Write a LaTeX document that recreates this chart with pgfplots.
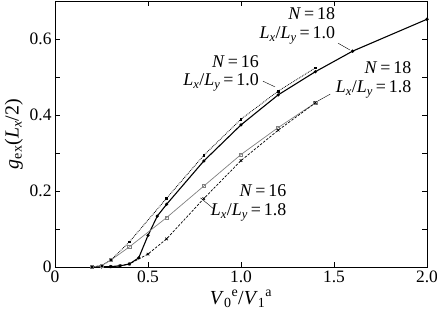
\documentclass[border=0pt]{standalone}
\usepackage{fontspec}
\setmainfont{Liberation Serif}
\usepackage{pgfplots}
\pgfplotsset{compat=1.18}
\begin{document}
\begin{tikzpicture}
\begin{axis}[
  scale only axis, width=372bp, height=266bp,
  xmin=0, xmax=2.0, ymin=0, ymax=0.7,
  xtick={0,0.5,1.0,1.5,2.0},
  xticklabels={0,0.5,1.0,1.5,2.0},
  ytick={0,0.2,0.4,0.6},
  yticklabels={0,0.2,0.4,0.6},
  minor ytick={0.1,0.3,0.5},
  tick align=inside,
  major tick length=5pt, minor tick length=5pt,
  tick style={black, line width=0.6pt},
  axis line style={line width=0.8pt},
  ticklabel style={font=\fontsize{17.5}{17.5}\selectfont},
  /pgf/number format/assume math mode=true,
  xticklabel style={yshift=0pt},
  yticklabel style={xshift=0pt},
  xlabel={\fontsize{20}{20}\selectfont\textit{V}\textsubscript{0}\textsuperscript{e}/\textit{V}\textsubscript{1}\textsuperscript{a}},
  ylabel={\fontsize{20}{20}\selectfont\textit{g}\textsubscript{ex}(\textit{L}\textsubscript{\textit{x}}/2)},
  xlabel style={yshift=-1pt},
  ylabel style={yshift=0pt},
  clip=false,
]
\coordinate (ll) at (rel axis cs:0,0);
\coordinate (ur) at (rel axis cs:1,1);
% N=18, Lx/Ly=1.0
\addplot[black, line width=1.1pt, mark=*, mark size=1.0pt] coordinates {
(0.2,0.0) (0.25,0.0005) (0.3,0.001) (0.35,0.003) (0.4,0.008) (0.45,0.024) (0.5,0.083) (0.55,0.134) (0.6,0.165) (0.8,0.279) (1.0,0.374) (1.2,0.453) (1.4,0.514) (1.6,0.568) (2.0,0.652)};
% N=16, Lx/Ly=1.0
\addplot[black, densely dotted, line width=0.8pt, mark=square*, mark size=0.9pt, mark options={solid}] coordinates {
(0.2,0.0) (0.25,0.004) (0.3,0.018) (0.4,0.066) (0.6,0.181) (0.8,0.294) (1.0,0.389) (1.2,0.463) (1.4,0.524)};
% N=18, Lx/Ly=1.8
\addplot[gray, line width=0.7pt, mark=square, mark size=1.6pt] coordinates {
(0.2,0.0) (0.25,0.004) (0.3,0.018) (0.4,0.053) (0.6,0.13) (0.8,0.213) (1.0,0.296) (1.2,0.367) (1.4,0.432)};
% N=16, Lx/Ly=1.8
\addplot[black, dashed, dash pattern=on 2.5pt off 1.5pt, line width=0.7pt, mark=x, mark size=1.8pt, mark options={solid}] coordinates {
(0.2,0.0) (0.3,0.001) (0.35,0.003) (0.4,0.008) (0.5,0.034) (0.6,0.074) (0.8,0.18) (1.0,0.28) (1.2,0.36) (1.4,0.432)};
% annotations
\node[font=\fontsize{18}{19}\selectfont, align=right, anchor=east] at (axis cs:1.525,0.634) {\textit{N}\,=\,18\hspace{1bp}\\\textit{L}\textsubscript{\textit{x}}/\textit{L}\textsubscript{\textit{y}}\,=\,1.0};
\draw[black, line width=0.4pt] (axis cs:1.522,0.589) -- (axis cs:1.586,0.571);
\node[font=\fontsize{18}{19}\selectfont, align=right, anchor=east] at (axis cs:1.115,0.51) {\textit{N}\,=\,16\hspace{6bp}\\\textit{L}\textsubscript{\textit{x}}/\textit{L}\textsubscript{\textit{y}}\,=\,1.0};
\draw[black, line width=0.4pt] (axis cs:1.118,0.489) -- (axis cs:1.183,0.474);
\node[font=\fontsize{18}{19}\selectfont, align=right, anchor=east] at (axis cs:1.935,0.492) {\textit{N}\,=\,18\hspace{4bp}\\\textit{L}\textsubscript{\textit{x}}/\textit{L}\textsubscript{\textit{y}}\,=\,1.8};
\draw[black, line width=0.4pt] (axis cs:1.48,0.455) -- (axis cs:1.414,0.437);
\node[font=\fontsize{18}{19}\selectfont, align=right, anchor=east] at (axis cs:1.263,0.168) {\textit{N}\,=\,16\hspace{3bp}\\\textit{L}\textsubscript{\textit{x}}/\textit{L}\textsubscript{\textit{y}}\,=\,1.8};
\draw[black, line width=0.4pt] (axis cs:0.853,0.153) -- (axis cs:0.782,0.182);
\end{axis}
\pgfresetboundingbox
\path ([shift={(-55bp,-52bp)}]ll) rectangle ([shift={(10bp,1bp)}]ur);
\end{tikzpicture}
\end{document}
